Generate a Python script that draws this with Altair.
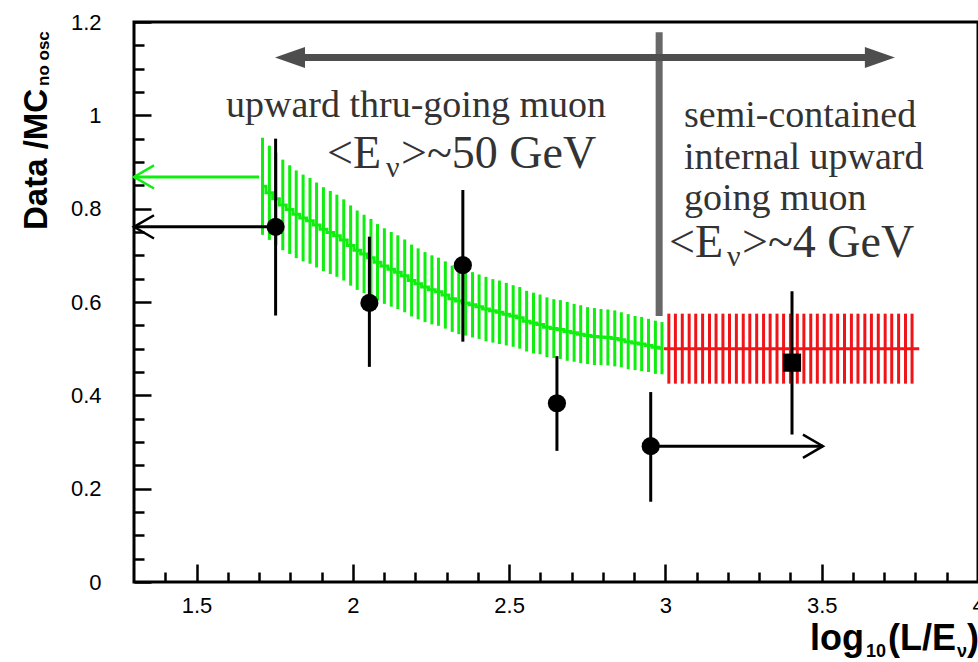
import altair as alt
import pandas as pd

# ---------------- data ----------------
# measured points (Data / MC ratio) with vertical error bars
PT_X = [1.753, 2.053, 2.352, 2.653, 2.953, 3.405]
PT_Y = [0.761, 0.598, 0.679, 0.383, 0.291, 0.470]
PT_LO = [0.571, 0.461, 0.515, 0.281, 0.172, 0.316]
PT_HI = [0.950, 0.740, 0.840, 0.484, 0.407, 0.623]
PT_MARKER = ["circle", "circle", "circle", "circle", "circle", "square"]

# expectation band, upward thru-going muons (fine bins)
GREEN_X = [1.711, 1.733, 1.754, 1.776, 1.798, 1.819, 1.841, 1.863, 1.884, 1.906,
           1.928, 1.949, 1.971, 1.993, 2.014, 2.036, 2.058, 2.079, 2.101, 2.123,
           2.144, 2.166, 2.188, 2.209, 2.231, 2.253, 2.274, 2.296, 2.318, 2.339,
           2.361, 2.383, 2.404, 2.426, 2.448, 2.469, 2.491, 2.513, 2.534, 2.556,
           2.578, 2.599, 2.621, 2.643, 2.664, 2.686, 2.708, 2.729, 2.751, 2.773,
           2.794, 2.816, 2.838, 2.859, 2.881, 2.903, 2.924, 2.946, 2.968, 2.989]
GREEN_C = [0.848, 0.834, 0.821, 0.808, 0.798, 0.788, 0.780, 0.774, 0.765, 0.756,
           0.749, 0.742, 0.733, 0.721, 0.711, 0.703, 0.695, 0.685, 0.677, 0.670,
           0.664, 0.656, 0.646, 0.639, 0.632, 0.626, 0.622, 0.615, 0.607, 0.602,
           0.598, 0.594, 0.590, 0.585, 0.581, 0.578, 0.574, 0.570, 0.566, 0.559,
           0.555, 0.552, 0.546, 0.543, 0.541, 0.537, 0.534, 0.531, 0.528, 0.526,
           0.525, 0.524, 0.522, 0.519, 0.515, 0.512, 0.510, 0.507, 0.503, 0.501]
GREEN_ERR = [0.104, 0.101, 0.099, 0.097, 0.095, 0.094, 0.093, 0.092, 0.091, 0.090,
             0.089, 0.088, 0.087, 0.086, 0.085, 0.084, 0.083, 0.082, 0.081, 0.080,
             0.079, 0.078, 0.077, 0.076, 0.075, 0.074, 0.073, 0.072, 0.071, 0.071,
             0.070, 0.070, 0.069, 0.069, 0.068, 0.068, 0.067, 0.066, 0.066, 0.065,
             0.065, 0.064, 0.064, 0.063, 0.063, 0.063, 0.062, 0.062, 0.061, 0.061,
             0.060, 0.060, 0.060, 0.059, 0.059, 0.058, 0.058, 0.057, 0.057, 0.056]

# expectation band, semi-contained internal upward going muons
RED_X = [3.011, 3.032, 3.054, 3.076, 3.097, 3.119, 3.141, 3.162, 3.184, 3.205,
         3.227, 3.249, 3.270, 3.292, 3.314, 3.335, 3.357, 3.378, 3.400, 3.422,
         3.443, 3.465, 3.486, 3.508, 3.530, 3.551, 3.573, 3.595, 3.616, 3.638,
         3.659, 3.681, 3.703, 3.724, 3.746, 3.768, 3.789]
RED_C = 0.5
RED_ERR = 0.075
RED_LINE_X = [2.995, 3.812]

# horizontal range arrows (lower / upper bounds)
ARROW_Y = [0.868, 0.761, 0.291]
ARROW_FROM = [1.700, 1.753, 2.953]
ARROW_TO = [1.300, 1.300, 3.504]
ARROW_COLOR = ["#10ee10", "black", "black"]
ARROW_DIR = ["left", "left", "right"]

# grey annotation: double arrow + divider
GREY_Y = 1.124
GREY_TIPS = [1.751, 3.734]
GREY_SHAFT = [1.80, 3.685]
DIV_X = 2.98
DIV_Y = [0.570, 1.178]

# axes
X_MAJOR = [1.5, 2.0, 2.5, 3.0, 3.5, 4.0]
X_MINOR = [1.4, 1.6, 1.7, 1.8, 1.9, 2.1, 2.2, 2.3, 2.4, 2.6, 2.7, 2.8, 2.9,
           3.1, 3.2, 3.3, 3.4, 3.6, 3.7, 3.8, 3.9]
Y_MAJOR = [0.0, 0.2, 0.4, 0.6, 0.8, 1.0, 1.2]
Y_MINOR = [0.05, 0.1, 0.15, 0.25, 0.3, 0.35, 0.45, 0.5, 0.55, 0.65, 0.7, 0.75,
           0.85, 0.9, 0.95, 1.05, 1.1, 1.15]

# ---------------- layout ----------------
W, H = 844, 560
PADL, PADT = 134, 22
GREEN = "#10ee10"
RED = "#f01418"
GREY = "#4e4e4e"
TXT = "#333333"

xs = alt.Scale(domain=[1.3, 4.0], nice=False, zero=False)
ys = alt.Scale(domain=[0.0, 1.2], nice=False, zero=False)

green = pd.DataFrame({"x": GREEN_X, "c": GREEN_C, "e": GREEN_ERR})
red = pd.DataFrame({"x": RED_X})
pts = pd.DataFrame({"x": PT_X, "y": PT_Y, "lo": PT_LO, "hi": PT_HI, "m": PT_MARKER})
LEFT_CHEV = "M 1 -0.58 L 0 0 L 1 0.58"
RIGHT_CHEV = "M -1 -0.58 L 0 0 L -1 0.58"
arrows = pd.DataFrame({
    "y": ARROW_Y, "x0": ARROW_FROM, "x1": ARROW_TO, "col": ARROW_COLOR,
    "shape": [LEFT_CHEV if d == "left" else RIGHT_CHEV for d in ARROW_DIR],
})

noax = dict(axis=None)

green_hatch = alt.Chart(green).transform_calculate(
    lo="datum.c - datum.e", hi="datum.c + datum.e"
).mark_rule(color=GREEN, strokeWidth=3).encode(
    x=alt.X("x:Q", scale=xs, **noax),
    y=alt.Y("lo:Q", scale=ys, **noax),
    y2="hi:Q",
)
green_line = alt.Chart(green).mark_line(color=GREEN, strokeWidth=3, interpolate="step").encode(
    x=alt.X("x:Q", scale=xs, **noax),
    y=alt.Y("c:Q", scale=ys, **noax),
)
red_hatch = alt.Chart(red).transform_calculate(
    lo=f"{RED_C} - {RED_ERR}", hi=f"{RED_C} + {RED_ERR}"
).mark_rule(color=RED, strokeWidth=3).encode(
    x=alt.X("x:Q", scale=xs, **noax),
    y=alt.Y("lo:Q", scale=ys, **noax),
    y2="hi:Q",
)
red_line = alt.Chart(pd.DataFrame({"x0": [RED_LINE_X[0]], "x1": [RED_LINE_X[1]], "y": [RED_C]})).mark_rule(
    color=RED, strokeWidth=3
).encode(
    x=alt.X("x0:Q", scale=xs, **noax), x2="x1:Q",
    y=alt.Y("y:Q", scale=ys, **noax),
)

arrow_lines = alt.Chart(arrows).mark_rule(strokeWidth=3).encode(
    x=alt.X("x0:Q", scale=xs, **noax), x2="x1:Q",
    y=alt.Y("y:Q", scale=ys, **noax),
    color=alt.Color("col:N", scale=None),
)
arrow_heads = alt.Chart(arrows).mark_point(filled=False, strokeWidth=2.5, size=1600, opacity=1).encode(
    x=alt.X("x1:Q", scale=xs, **noax),
    y=alt.Y("y:Q", scale=ys, **noax),
    shape=alt.Shape("shape:N", scale=None),
    stroke=alt.Stroke("col:N", scale=None),
)

grey_shaft = alt.Chart(pd.DataFrame({"x0": [GREY_SHAFT[0]], "x1": [GREY_SHAFT[1]], "y": [GREY_Y]})).mark_rule(
    color=GREY, strokeWidth=7
).encode(
    x=alt.X("x0:Q", scale=xs, **noax), x2="x1:Q",
    y=alt.Y("y:Q", scale=ys, **noax),
)
grey_heads = alt.Chart(pd.DataFrame({
    "x": GREY_TIPS, "y": [GREY_Y, GREY_Y],
    "shape": ["M 0 0 L 1 -0.35 L 1 0.35 Z", "M 0 0 L -1 -0.35 L -1 0.35 Z"],
})).mark_point(filled=True, color=GREY, size=3600, opacity=1, strokeWidth=0).encode(
    x=alt.X("x:Q", scale=xs, **noax),
    y=alt.Y("y:Q", scale=ys, **noax),
    shape=alt.Shape("shape:N", scale=None),
)
divider = alt.Chart(pd.DataFrame({"x": [DIV_X], "y0": [DIV_Y[0]], "y1": [DIV_Y[1]]})).mark_rule(
    color="#686868", strokeWidth=7
).encode(
    x=alt.X("x:Q", scale=xs, **noax),
    y=alt.Y("y0:Q", scale=ys, **noax), y2="y1:Q",
)

err_bars = alt.Chart(pts).mark_rule(color="black", strokeWidth=3).encode(
    x=alt.X("x:Q", scale=xs, **noax),
    y=alt.Y("lo:Q", scale=ys, **noax),
    y2="hi:Q",
)
markers = alt.Chart(pts).mark_point(filled=True, color="black", opacity=1, size=330).encode(
    x=alt.X("x:Q", scale=xs, axis=alt.Axis(
        values=X_MAJOR, format="~g", ticks=False, tickSize=0, domain=False, grid=False,
        title=None, labelFont="Liberation Sans", labelFontSize=22, labelColor="black",
        labelPadding=13, labelFlush=False, labelOverlap=False)),
    y=alt.Y("y:Q", scale=ys, axis=alt.Axis(
        values=Y_MAJOR, format="~g", ticks=False, tickSize=0, domain=False, grid=False,
        title=None, labelFont="Liberation Sans", labelFontSize=22, labelColor="black",
        labelPadding=33, labelOverlap=False)),
    shape=alt.Shape("m:N", scale=None),
)


def tick_layer(xv, yv, xlen, ylen):
    return alt.Chart(pts).mark_point(opacity=0).encode(
        x=alt.X("x:Q", scale=xs, axis=alt.Axis(
            orient="top", offset=-H, values=xv, labels=False, domain=False, grid=False,
            title=None, tickSize=xlen, tickWidth=2.5, tickColor="black")),
        y=alt.Y("y:Q", scale=ys, axis=alt.Axis(
            orient="right", offset=-W, values=yv, labels=False, domain=False, grid=False,
            title=None, tickSize=ylen, tickWidth=2.5, tickColor="black")),
    )


def txt(s, x, y, size, font="Liberation Serif", color=TXT, weight="normal", angle=0):
    return alt.Chart(pd.DataFrame({"t": [s]})).mark_text(
        align="left", baseline="alphabetic", font=font, fontSize=size,
        fontWeight=weight, color=color, angle=angle,
    ).encode(x=alt.value(x - PADL), y=alt.value(y - PADT), text="t:N")


texts = [
    txt("upward thru-going muon", 226, 117, 38),
    txt("<E", 327, 168, 46),
    txt("ν", 386, 177, 30),
    txt(">~50 GeV", 401, 168, 46),
    txt("semi-contained", 684, 127, 38),
    txt("internal upward", 684, 169, 38),
    txt("going muon", 684, 210, 38),
    txt("<E", 669, 257, 46),
    txt("ν", 727, 266, 30),
    txt(">~4 GeV", 742, 257, 46),
    # axis titles
    txt("Data /MC", 47, 230, 33, font="Liberation Sans", color="black", weight="bold", angle=270),
    txt("no osc", 49, 86, 17, font="Liberation Sans", color="black", weight="bold", angle=270),
    txt("log", 810, 650, 36, font="Liberation Sans", color="black", weight="bold"),
    txt("10", 866, 657, 18, font="Liberation Sans", color="black", weight="bold"),
    txt("(L/E", 888, 650, 36, font="Liberation Sans", color="black", weight="bold"),
    txt("ν", 957, 657, 18, font="Liberation Sans", color="black", weight="bold"),
    txt(")", 967, 650, 36, font="Liberation Sans", color="black", weight="bold"),
]

chart = alt.layer(
    green_hatch, green_line, red_hatch, red_line,
    divider, grey_shaft, grey_heads,
    arrow_lines, arrow_heads, err_bars, markers,
    tick_layer(X_MAJOR, Y_MAJOR, 18, 17),
    tick_layer(X_MINOR, Y_MINOR, 10, 10),
    *texts,
).resolve_axis(x="independent", y="independent").properties(
    width=W, height=H,
    autosize=alt.AutoSizeParams(type="none"),
    padding={"left": PADL, "top": PADT, "right": 0, "bottom": 662 - PADT - H},
    background="white",
).configure_view(stroke="black", strokeWidth=3)

chart.save("out.html", embed_options={"renderer": "svg", "actions": False})
